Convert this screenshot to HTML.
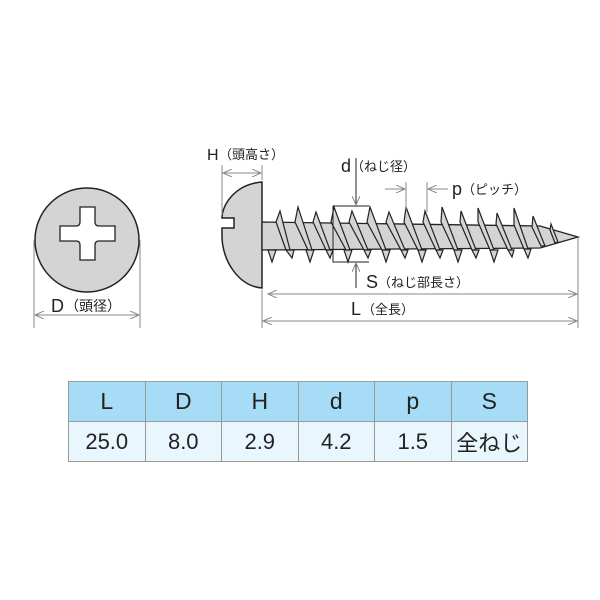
<!DOCTYPE html>
<html><head><meta charset="utf-8"><style>
body{margin:0;background:#fff;width:600px;height:600px;overflow:hidden;font-family:"Liberation Sans","Noto Sans CJK JP",sans-serif}
svg{position:absolute;left:0;top:0}
table{position:absolute;left:68px;top:381px;border-collapse:collapse;width:460px;table-layout:fixed}
td{border:1px solid #999;text-align:center;font-size:22px;color:#222;height:39px;padding:0}
tr.h td{background:#a6dcf5;font-size:23px}
tr.v td{background:#eaf6fd}
</style></head><body>
<svg width="600" height="600" viewBox="0 0 600 600" font-family="Liberation Sans, Noto Sans CJK JP, sans-serif" fill="#222">
<defs><marker id="a" markerWidth="10" markerHeight="8" refX="9" refY="4" orient="auto" markerUnits="userSpaceOnUse"><path d="M0,0 L9,4 L0,8" fill="none" stroke="#888" stroke-width="1"/></marker></defs>
<circle cx="87" cy="240" r="52" fill="#d4d4d4" stroke="#222" stroke-width="1.5"/>
<path d="M80,207 h15 v15 q0,4 4,4 h16 v15 h-16 q-4,0 -4,4 v15 h-15 v-15 q0,-4 -4,-4 h-16 v-15 h16 q4,0 4,-4z" fill="#fff" stroke="#222" stroke-width="1.3"/>
<g stroke="#888" stroke-width="1" fill="none">
<line x1="34" y1="240" x2="34" y2="328"/><line x1="140" y1="240" x2="140" y2="328"/>
<line x1="88" y1="315" x2="35" y2="315" marker-end="url(#a)"/><line x1="88" y1="315" x2="139" y2="315" marker-end="url(#a)"/>
</g>
<text x="51" y="312" font-size="18">D</text><text x="65" y="311" font-size="14">（頭径）</text>
<path d="M262,182 C235,184 222,205 222,218 L234,218 L234,228 L222,228 L222,236 C222,260 238,286 262,288 Z" fill="#d4d4d4" stroke="#222" stroke-width="1.5"/>
<path d="M262,222 L262,250 L540,248 L578,237 L540,226 Z" fill="#d4d4d4" stroke="#222" stroke-width="1.3"/>
<g fill="#d4d4d4" stroke="#222" stroke-width="1.2">
<path d="M276,222 L280,211 L290,250 L286,250 Z"/>
<path d="M295,222 L298,207 L312,250 L308,250 Z"/>
<path d="M313,222 L316,212 L330,250 L326,250 Z"/>
<path d="M331,222 L334,207 L350,250 L346,250 Z"/>
<path d="M349,222 L352,211 L368,250 L364,250 Z"/>
<path d="M367,222 L370,207 L386,250 L382,250 Z"/>
<path d="M386,222 L389,212 L405,250 L401,250 Z"/>
<path d="M404,222 L406,207 L422,250 L418,250 Z"/>
<path d="M423,222 L425,211 L440,250 L436,250 Z"/>
<path d="M441,222 L442,207 L458,250 L454,250 Z"/>
<path d="M460,222 L461,211 L476,250 L472,250 Z"/>
<path d="M478,222 L478,208 L494,250 L490,250 Z"/>
<path d="M496,224 L497,213 L512,250 L508,250 Z"/>
<path d="M514,225 L514,208 L528,249 L524,249 Z"/>
<path d="M532,227 L533,216 L545,246 L541,246 Z"/>
<path d="M550,230 L551,224 L558,242 L555,243 Z"/>
<path d="M268,250 L272,262 L276,250 Z"/><path d="M286,250 L292,258 L294,250 Z"/>
<path d="M306,250 L310,262 L314,250 Z"/><path d="M326,250 L330,258 L333,250 Z"/>
<path d="M344,250 L348,262 L352,250 Z"/><path d="M364,250 L368,258 L371,250 Z"/>
<path d="M382,250 L386,262 L390,250 Z"/><path d="M401,250 L405,258 L408,250 Z"/>
<path d="M418,250 L422,262 L426,250 Z"/><path d="M436,250 L440,258 L443,250 Z"/>
<path d="M454,250 L458,262 L462,250 Z"/><path d="M472,250 L476,258 L479,250 Z"/>
<path d="M490,250 L494,262 L498,250 Z"/><path d="M508,250 L512,257 L514,250 Z"/>
<path d="M524,249 L528,258 L531,249 Z"/>
</g>
<g stroke="#888" stroke-width="1" fill="none">
<line x1="222" y1="165" x2="222" y2="215"/><line x1="262" y1="165" x2="262" y2="180"/>
<line x1="242" y1="173" x2="223" y2="173" marker-end="url(#a)"/><line x1="242" y1="173" x2="261" y2="173" marker-end="url(#a)"/>
<line x1="262" y1="290" x2="262" y2="328"/><line x1="578" y1="238" x2="578" y2="328"/>
<line x1="420" y1="294" x2="268" y2="294" marker-end="url(#a)"/><line x1="420" y1="294" x2="577" y2="294" marker-end="url(#a)"/>
<line x1="420" y1="321" x2="263" y2="321" marker-end="url(#a)"/><line x1="420" y1="321" x2="577" y2="321" marker-end="url(#a)"/>
<line x1="406" y1="182" x2="406" y2="210"/><line x1="427" y1="182" x2="427" y2="212"/>
<line x1="385" y1="189" x2="405" y2="189" marker-end="url(#a)"/><line x1="448" y1="189" x2="428" y2="189" marker-end="url(#a)"/>
</g>
<g stroke="#222" stroke-width="1" fill="none">
<path d="M333,206 H369 M333,206 V262 H369"/>
<line x1="356" y1="158" x2="356" y2="205" marker-end="url(#a)"/>
<line x1="356" y1="288" x2="356" y2="263" marker-end="url(#a)"/>
</g>
<text x="207" y="160" font-size="16">H</text><text x="219" y="159" font-size="13">（頭高さ）</text>
<text x="341" y="172" font-size="18">d</text><text x="351" y="171" font-size="13">（ねじ径）</text>
<text x="452" y="195" font-size="18">p</text><text x="462" y="194" font-size="13">（ピッチ）</text>
<text x="366" y="288" font-size="18">S</text><text x="378" y="287" font-size="13">（ねじ部長さ）</text>
<text x="351" y="315" font-size="18">L</text><text x="362" y="314" font-size="13">（全長）</text>
</svg>
<table>
<tr class="h"><td>L</td><td>D</td><td>H</td><td>d</td><td>p</td><td>S</td></tr>
<tr class="v"><td>25.0</td><td>8.0</td><td>2.9</td><td>4.2</td><td>1.5</td><td>全ねじ</td></tr>
</table>
</body></html>
